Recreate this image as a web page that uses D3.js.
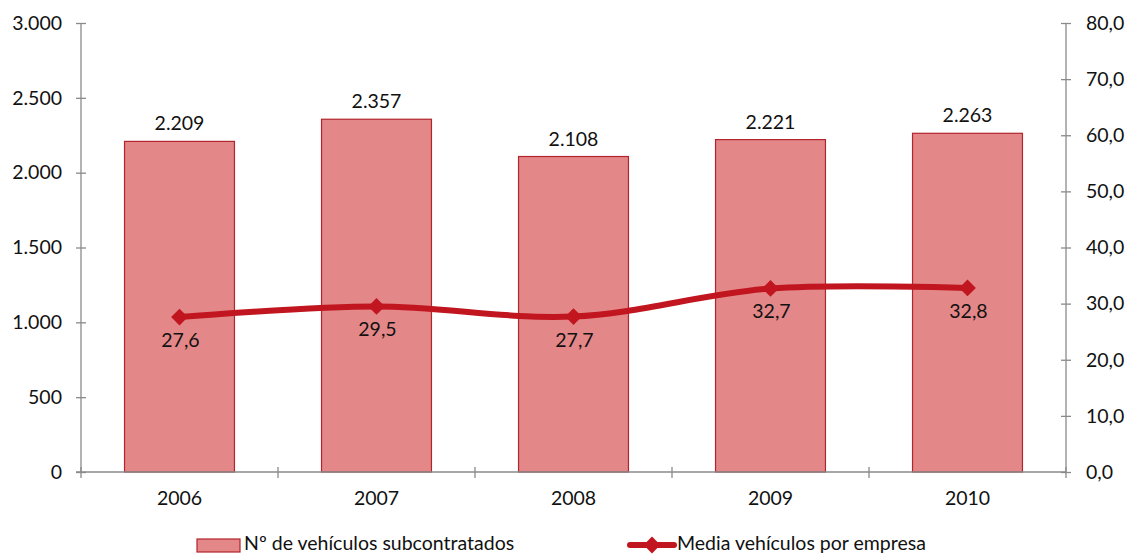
<!DOCTYPE html>
<html>
<head>
<meta charset="utf-8">
<script src="https://cdn.jsdelivr.net/npm/d3@7"></script>
<style>
  html, body { margin: 0; padding: 0; background: #fff; }
  svg { display: block; font-family: "Lato", "Open Sans", sans-serif; }
</style>
</head>
<body>
<svg id="chart" width="1131" height="555"></svg>
<script>
// Vehicles subcontracted per year (bars) and average vehicles per company (line)
const years = ["2006", "2007", "2008", "2009", "2010"];
const vehicles = [2209, 2357, 2108, 2221, 2263];
const avgPerCompany = [27.6, 29.5, 27.7, 32.7, 32.8];
const leftTicks = [0, 500, 1000, 1500, 2000, 2500, 3000];
const rightTicks = [0, 10, 20, 30, 40, 50, 60, 70, 80];
const seriesNames = ["Nº de vehículos subcontratados", "Media vehículos por empresa"];

const barFill = "#e38788";
const barStroke = "#b3242c";
const lineColor = "#c1161f";
const axisColor = "#8a8a8a";
const textColor = "#111";
const fontSize = 19.5;

const svg = d3.select("#chart");
const plotLeft = 81, plotRight = 1066, plotTop = 23, plotBottom = 472;

const x = d3.scaleBand().domain(years).range([plotLeft, plotRight]).paddingInner(0.442).paddingOuter(0.221);
const yL = d3.scaleLinear().domain([0, 3000]).range([plotBottom, plotTop]);
const yR = d3.scaleLinear().domain([0, 80]).range([plotBottom, plotTop]);

const esLocale = d3.formatLocale({ decimal: ",", thousands: ".", grouping: [3], currency: ["", "€"] });
const fmtInt = esLocale.format(",d");
const fmt1 = esLocale.format(".1f");

// Bars
svg.append("g").selectAll("rect").data(years).join("rect")
  .attr("x", (d) => x(d))
  .attr("y", (d, i) => yL(vehicles[i]))
  .attr("width", x.bandwidth())
  .attr("height", (d, i) => yL(0) - yL(vehicles[i]))
  .attr("fill", barFill)
  .attr("stroke", barStroke)
  .attr("stroke-width", 1.2);

// Bar value labels
svg.append("g").selectAll("text").data(years).join("text")
  .attr("x", (d) => x(d) + x.bandwidth() / 2)
  .attr("y", (d, i) => yL(vehicles[i]) - 11)
  .attr("text-anchor", "middle")
  .attr("font-size", fontSize)
  .attr("fill", textColor)
  .text((d, i) => fmtInt(vehicles[i]));

// Left axis
const axL = svg.append("g").attr("transform", `translate(${plotLeft},0)`)
  .call(d3.axisLeft(yL).tickValues(leftTicks).tickSize(5).tickPadding(14).tickFormat(fmtInt));
axL.selectAll(".tick line").attr("x1", 5).attr("x2", -5);
// Right axis
const axR = svg.append("g").attr("transform", `translate(${plotRight},0)`)
  .call(d3.axisRight(yR).tickValues(rightTicks).tickSize(5).tickPadding(15).tickFormat(fmt1));
axR.selectAll(".tick line").attr("x1", -5).attr("x2", 5);

// Bottom axis: boundary ticks between categories, labels centered
const boundaries = d3.range(years.length + 1).map((i) => plotLeft + i * x.step());
const axB = svg.append("g");
axB.append("line")
  .attr("x1", plotLeft - 5).attr("x2", plotRight)
  .attr("y1", plotBottom).attr("y2", plotBottom)
  .attr("stroke", axisColor).attr("stroke-width", 1.3);
axB.selectAll("line.b").data(boundaries).join("line")
  .attr("class", "b")
  .attr("x1", (d) => d).attr("x2", (d) => d)
  .attr("y1", plotBottom - 5).attr("y2", plotBottom + 6)
  .attr("stroke", axisColor).attr("stroke-width", 1.3);
axB.selectAll("text").data(years).join("text")
  .attr("x", (d) => x(d) + x.bandwidth() / 2)
  .attr("y", 505)
  .attr("text-anchor", "middle")
  .attr("font-size", fontSize)
  .attr("fill", textColor)
  .text((d) => d);

[axL, axR].forEach((g) => {
  g.select(".domain").attr("stroke", axisColor).attr("stroke-width", 1.3);
  g.selectAll(".tick line").attr("stroke", axisColor).attr("stroke-width", 1.3);
  g.selectAll(".tick text").attr("font-size", fontSize).attr("fill", textColor).attr("font-family", "Lato, sans-serif");
});
axL.select(".domain").attr("d", `M0,${plotTop}V${plotBottom}`);
axR.select(".domain").attr("d", `M0,${plotTop}V${plotBottom}`);

// Average line (smoothed)
const pts = years.map((d, i) => [x(d) + x.bandwidth() / 2, yR(avgPerCompany[i])]);
svg.append("path")
  .attr("d", d3.line().curve(d3.curveCatmullRom.alpha(0))(pts))
  .attr("fill", "none")
  .attr("stroke", lineColor)
  .attr("stroke-width", 6)
  .attr("stroke-linecap", "round");

const diamond = d3.symbol().type(d3.symbolDiamond2).size(180);
svg.append("g").selectAll("path").data(pts).join("path")
  .attr("transform", (d) => `translate(${d[0]},${d[1]})`)
  .attr("d", diamond)
  .attr("fill", lineColor);

svg.append("g").selectAll("text").data(pts).join("text")
  .attr("x", (d) => d[0] + 1)
  .attr("y", (d) => d[1] + 30)
  .attr("text-anchor", "middle")
  .attr("font-size", fontSize)
  .attr("fill", textColor)
  .text((d, i) => fmt1(avgPerCompany[i]));

// Legend
const lg = svg.append("g");
lg.append("rect")
  .attr("x", 197).attr("y", 539).attr("width", 43).attr("height", 13)
  .attr("fill", barFill).attr("stroke", barStroke).attr("stroke-width", 1.2);
lg.append("text")
  .attr("x", 244).attr("y", 550).attr("font-size", fontSize).attr("fill", textColor)
  .text(seriesNames[0]);
lg.append("line")
  .attr("x1", 630).attr("x2", 674).attr("y1", 545).attr("y2", 545)
  .attr("stroke", lineColor).attr("stroke-width", 6).attr("stroke-linecap", "round");
lg.append("path")
  .attr("transform", "translate(652,545)")
  .attr("d", diamond)
  .attr("fill", lineColor);
lg.append("text")
  .attr("x", 677).attr("y", 550).attr("font-size", fontSize).attr("fill", textColor)
  .text(seriesNames[1]);
</script>
</body>
</html>
